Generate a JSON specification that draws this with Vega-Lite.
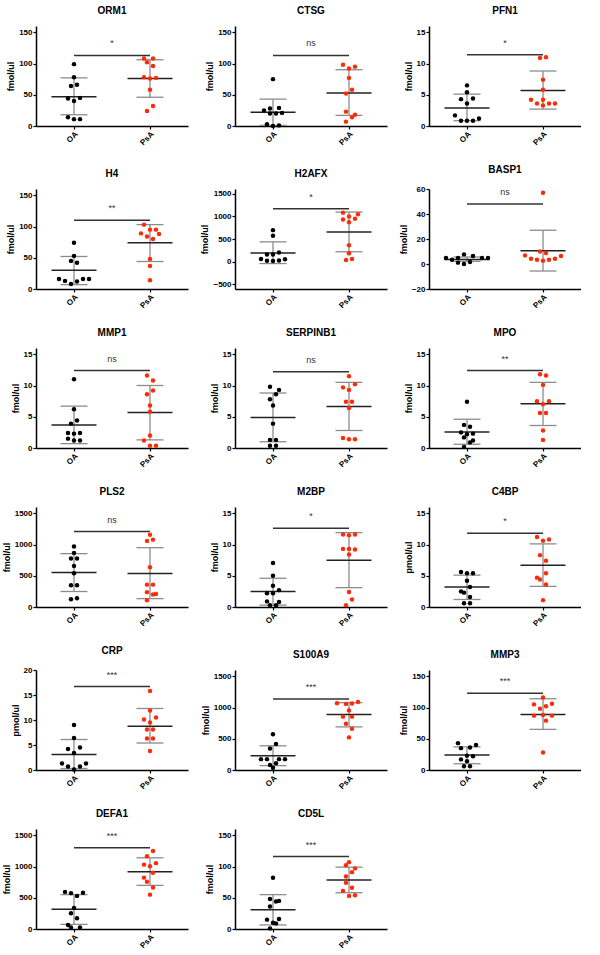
{
"$schema":"https://vega.github.io/schema/vega-lite/v6.json",
"background":"white",
"padding":{"left":2,"top":6,"right":0,"bottom":0},
"datasets":{"d":[
{"p":"ORM1","g":"OA","v":99,"j":0},{"p":"ORM1","g":"OA","v":78,"j":0},{"p":"ORM1","g":"OA","v":64,"j":-1},{"p":"ORM1","g":"OA","v":66,"j":1},{"p":"ORM1","g":"OA","v":44,"j":-2},{"p":"ORM1","g":"OA","v":45,"j":2},{"p":"ORM1","g":"OA","v":40,"j":0},{"p":"ORM1","g":"OA","v":14,"j":-2},{"p":"ORM1","g":"OA","v":11,"j":0},{"p":"ORM1","g":"OA","v":11,"j":2},
{"p":"ORM1","g":"PsA","v":108,"j":-2},{"p":"ORM1","g":"PsA","v":108,"j":1},{"p":"ORM1","g":"PsA","v":102,"j":-1},{"p":"ORM1","g":"PsA","v":96,"j":1},{"p":"ORM1","g":"PsA","v":78,"j":-2},{"p":"ORM1","g":"PsA","v":76,"j":0},{"p":"ORM1","g":"PsA","v":77,"j":2},{"p":"ORM1","g":"PsA","v":58,"j":0},{"p":"ORM1","g":"PsA","v":32,"j":1},{"p":"ORM1","g":"PsA","v":24,"j":-1},
{"p":"CTSG","g":"OA","v":75,"j":0},{"p":"CTSG","g":"OA","v":25,"j":-3},{"p":"CTSG","g":"OA","v":28,"j":-1},{"p":"CTSG","g":"OA","v":29,"j":2},{"p":"CTSG","g":"OA","v":20,"j":-1},{"p":"CTSG","g":"OA","v":20,"j":1},{"p":"CTSG","g":"OA","v":21,"j":3},{"p":"CTSG","g":"OA","v":3,"j":-2},{"p":"CTSG","g":"OA","v":1,"j":2},{"p":"CTSG","g":"OA","v":0,"j":0},
{"p":"CTSG","g":"PsA","v":98,"j":-2},{"p":"CTSG","g":"PsA","v":92,"j":0},{"p":"CTSG","g":"PsA","v":95,"j":2},{"p":"CTSG","g":"PsA","v":77,"j":0},{"p":"CTSG","g":"PsA","v":58,"j":1},{"p":"CTSG","g":"PsA","v":52,"j":-1},{"p":"CTSG","g":"PsA","v":23,"j":-1},{"p":"CTSG","g":"PsA","v":18,"j":2},{"p":"CTSG","g":"PsA","v":14,"j":1},{"p":"CTSG","g":"PsA","v":7,"j":-1},
{"p":"PFN1","g":"OA","v":6.5,"j":0},{"p":"PFN1","g":"OA","v":5.4,"j":0},{"p":"PFN1","g":"OA","v":4.3,"j":-2},{"p":"PFN1","g":"OA","v":4.4,"j":2},{"p":"PFN1","g":"OA","v":3.6,"j":0},{"p":"PFN1","g":"OA","v":1.7,"j":-4},{"p":"PFN1","g":"OA","v":1.2,"j":4},{"p":"PFN1","g":"OA","v":0.85,"j":-2},{"p":"PFN1","g":"OA","v":0.85,"j":0},{"p":"PFN1","g":"OA","v":0.85,"j":2},
{"p":"PFN1","g":"PsA","v":10.9,"j":-1},{"p":"PFN1","g":"PsA","v":11.0,"j":1},{"p":"PFN1","g":"PsA","v":7.4,"j":0},{"p":"PFN1","g":"PsA","v":5.8,"j":0},{"p":"PFN1","g":"PsA","v":4.2,"j":-4},{"p":"PFN1","g":"PsA","v":4.2,"j":0},{"p":"PFN1","g":"PsA","v":3.6,"j":-2},{"p":"PFN1","g":"PsA","v":3.3,"j":0},{"p":"PFN1","g":"PsA","v":3.6,"j":2},{"p":"PFN1","g":"PsA","v":3.6,"j":4},
{"p":"H4","g":"OA","v":74,"j":0},{"p":"H4","g":"OA","v":53,"j":0},{"p":"H4","g":"OA","v":45,"j":-1},{"p":"H4","g":"OA","v":42,"j":1},{"p":"H4","g":"OA","v":16,"j":-5},{"p":"H4","g":"OA","v":13,"j":-3},{"p":"H4","g":"OA","v":12,"j":1},{"p":"H4","g":"OA","v":16,"j":3},{"p":"H4","g":"OA","v":16,"j":5},{"p":"H4","g":"OA","v":8,"j":-1},
{"p":"H4","g":"PsA","v":103,"j":-2},{"p":"H4","g":"PsA","v":89,"j":-3},{"p":"H4","g":"PsA","v":84,"j":-1},{"p":"H4","g":"PsA","v":95,"j":0},{"p":"H4","g":"PsA","v":95,"j":2},{"p":"H4","g":"PsA","v":80,"j":1},{"p":"H4","g":"PsA","v":88,"j":3},{"p":"H4","g":"PsA","v":48,"j":0},{"p":"H4","g":"PsA","v":37,"j":0},{"p":"H4","g":"PsA","v":14,"j":0},
{"p":"H2AFX","g":"OA","v":695,"j":0},{"p":"H2AFX","g":"OA","v":570,"j":0},{"p":"H2AFX","g":"OA","v":159,"j":-2},{"p":"H2AFX","g":"OA","v":159,"j":0},{"p":"H2AFX","g":"OA","v":205,"j":2},{"p":"H2AFX","g":"OA","v":60,"j":-4},{"p":"H2AFX","g":"OA","v":53,"j":4},{"p":"H2AFX","g":"OA","v":20,"j":-2},{"p":"H2AFX","g":"OA","v":15,"j":0},{"p":"H2AFX","g":"OA","v":25,"j":2},
{"p":"H2AFX","g":"PsA","v":1080,"j":-2},{"p":"H2AFX","g":"PsA","v":1046,"j":3},{"p":"H2AFX","g":"PsA","v":927,"j":-2},{"p":"H2AFX","g":"PsA","v":993,"j":0},{"p":"H2AFX","g":"PsA","v":947,"j":2},{"p":"H2AFX","g":"PsA","v":868,"j":0},{"p":"H2AFX","g":"PsA","v":364,"j":0},{"p":"H2AFX","g":"PsA","v":185,"j":0},{"p":"H2AFX","g":"PsA","v":40,"j":-1},{"p":"H2AFX","g":"PsA","v":60,"j":1},
{"p":"BASP1","g":"OA","v":4.8,"j":-7},{"p":"BASP1","g":"OA","v":3.4,"j":-5},{"p":"BASP1","g":"OA","v":4.8,"j":-3},{"p":"BASP1","g":"OA","v":7.7,"j":-1},{"p":"BASP1","g":"OA","v":6.4,"j":2},{"p":"BASP1","g":"OA","v":4.8,"j":5},{"p":"BASP1","g":"OA","v":4.8,"j":7},{"p":"BASP1","g":"OA","v":1.1,"j":-3},{"p":"BASP1","g":"OA","v":0,"j":-1},{"p":"BASP1","g":"OA","v":1.6,"j":1},
{"p":"BASP1","g":"PsA","v":57,"j":0},{"p":"BASP1","g":"PsA","v":6.9,"j":-6},{"p":"BASP1","g":"PsA","v":4.2,"j":-4},{"p":"BASP1","g":"PsA","v":3.4,"j":-2},{"p":"BASP1","g":"PsA","v":10,"j":-1},{"p":"BASP1","g":"PsA","v":8.8,"j":1},{"p":"BASP1","g":"PsA","v":2.7,"j":0},{"p":"BASP1","g":"PsA","v":3.4,"j":2},{"p":"BASP1","g":"PsA","v":4.2,"j":4},{"p":"BASP1","g":"PsA","v":6.4,"j":6},
{"p":"MMP1","g":"OA","v":11,"j":0},{"p":"MMP1","g":"OA","v":6.2,"j":0},{"p":"MMP1","g":"OA","v":4.4,"j":1},{"p":"MMP1","g":"OA","v":3.9,"j":-1},{"p":"MMP1","g":"OA","v":2.4,"j":-2},{"p":"MMP1","g":"OA","v":2.3,"j":0},{"p":"MMP1","g":"OA","v":2.4,"j":2},{"p":"MMP1","g":"OA","v":1.5,"j":-2},{"p":"MMP1","g":"OA","v":1.2,"j":0},{"p":"MMP1","g":"OA","v":1.2,"j":2},
{"p":"MMP1","g":"PsA","v":11.6,"j":-1},{"p":"MMP1","g":"PsA","v":10.8,"j":1},{"p":"MMP1","g":"PsA","v":8.6,"j":-1},{"p":"MMP1","g":"PsA","v":9.2,"j":1},{"p":"MMP1","g":"PsA","v":6.8,"j":0},{"p":"MMP1","g":"PsA","v":5.8,"j":0},{"p":"MMP1","g":"PsA","v":2.0,"j":0},{"p":"MMP1","g":"PsA","v":1.2,"j":-2},{"p":"MMP1","g":"PsA","v":0.35,"j":0},{"p":"MMP1","g":"PsA","v":0.35,"j":2},
{"p":"SERPINB1","g":"OA","v":9.8,"j":-1},{"p":"SERPINB1","g":"OA","v":9.3,"j":2},{"p":"SERPINB1","g":"OA","v":8.6,"j":1},{"p":"SERPINB1","g":"OA","v":7.8,"j":-1},{"p":"SERPINB1","g":"OA","v":6.8,"j":0},{"p":"SERPINB1","g":"OA","v":3.9,"j":0},{"p":"SERPINB1","g":"OA","v":1.3,"j":-1},{"p":"SERPINB1","g":"OA","v":1.3,"j":1},{"p":"SERPINB1","g":"OA","v":0.35,"j":-1},{"p":"SERPINB1","g":"OA","v":0.35,"j":1},
{"p":"SERPINB1","g":"PsA","v":11.5,"j":0},{"p":"SERPINB1","g":"PsA","v":9.7,"j":-2},{"p":"SERPINB1","g":"PsA","v":9.3,"j":0},{"p":"SERPINB1","g":"PsA","v":10.2,"j":2},{"p":"SERPINB1","g":"PsA","v":7.4,"j":-1},{"p":"SERPINB1","g":"PsA","v":7.4,"j":1},{"p":"SERPINB1","g":"PsA","v":6.4,"j":0},{"p":"SERPINB1","g":"PsA","v":1.6,"j":-2},{"p":"SERPINB1","g":"PsA","v":1.4,"j":0},{"p":"SERPINB1","g":"PsA","v":1.4,"j":2},
{"p":"MPO","g":"OA","v":7.4,"j":0},{"p":"MPO","g":"OA","v":3.7,"j":-1},{"p":"MPO","g":"OA","v":3.4,"j":1},{"p":"MPO","g":"OA","v":2.5,"j":-2},{"p":"MPO","g":"OA","v":2.2,"j":0},{"p":"MPO","g":"OA","v":2.3,"j":2},{"p":"MPO","g":"OA","v":1.7,"j":-1},{"p":"MPO","g":"OA","v":1.2,"j":2},{"p":"MPO","g":"OA","v":0.9,"j":1},{"p":"MPO","g":"OA","v":0.15,"j":-1},
{"p":"MPO","g":"PsA","v":11.8,"j":-1},{"p":"MPO","g":"PsA","v":11.6,"j":1},{"p":"MPO","g":"PsA","v":10.1,"j":0},{"p":"MPO","g":"PsA","v":7.5,"j":-2},{"p":"MPO","g":"PsA","v":7.5,"j":2},{"p":"MPO","g":"PsA","v":7.0,"j":0},{"p":"MPO","g":"PsA","v":5.6,"j":-1},{"p":"MPO","g":"PsA","v":5.6,"j":1},{"p":"MPO","g":"PsA","v":2.8,"j":0},{"p":"MPO","g":"PsA","v":1.3,"j":0},
{"p":"PLS2","g":"OA","v":969,"j":0},{"p":"PLS2","g":"OA","v":864,"j":0},{"p":"PLS2","g":"OA","v":775,"j":-1},{"p":"PLS2","g":"OA","v":775,"j":1},{"p":"PLS2","g":"OA","v":656,"j":0},{"p":"PLS2","g":"OA","v":541,"j":0},{"p":"PLS2","g":"OA","v":348,"j":-1},{"p":"PLS2","g":"OA","v":348,"j":1},{"p":"PLS2","g":"OA","v":124,"j":-1},{"p":"PLS2","g":"OA","v":139,"j":1},
{"p":"PLS2","g":"PsA","v":1157,"j":0},{"p":"PLS2","g":"PsA","v":1058,"j":-1},{"p":"PLS2","g":"PsA","v":1078,"j":1},{"p":"PLS2","g":"PsA","v":636,"j":0},{"p":"PLS2","g":"PsA","v":358,"j":-1},{"p":"PLS2","g":"PsA","v":358,"j":1},{"p":"PLS2","g":"PsA","v":238,"j":-1},{"p":"PLS2","g":"PsA","v":199,"j":1},{"p":"PLS2","g":"PsA","v":209,"j":2},{"p":"PLS2","g":"PsA","v":109,"j":-1},
{"p":"M2BP","g":"OA","v":7.05,"j":0},{"p":"M2BP","g":"OA","v":5.0,"j":0},{"p":"M2BP","g":"OA","v":3.4,"j":0},{"p":"M2BP","g":"OA","v":2.7,"j":2},{"p":"M2BP","g":"OA","v":2.2,"j":-2},{"p":"M2BP","g":"OA","v":2.2,"j":0},{"p":"M2BP","g":"OA","v":0.9,"j":-2},{"p":"M2BP","g":"OA","v":0.8,"j":2},{"p":"M2BP","g":"OA","v":0.3,"j":-1},{"p":"M2BP","g":"OA","v":0.3,"j":1},
{"p":"M2BP","g":"PsA","v":11.6,"j":-2},{"p":"M2BP","g":"PsA","v":11.5,"j":0},{"p":"M2BP","g":"PsA","v":11.6,"j":2},{"p":"M2BP","g":"PsA","v":9.3,"j":-2},{"p":"M2BP","g":"PsA","v":9.3,"j":0},{"p":"M2BP","g":"PsA","v":9.2,"j":2},{"p":"M2BP","g":"PsA","v":8.4,"j":0},{"p":"M2BP","g":"PsA","v":2.4,"j":0},{"p":"M2BP","g":"PsA","v":1.2,"j":1},{"p":"M2BP","g":"PsA","v":0.3,"j":-1},
{"p":"C4BP","g":"OA","v":5.6,"j":-2},{"p":"C4BP","g":"OA","v":5.4,"j":0},{"p":"C4BP","g":"OA","v":5.4,"j":2},{"p":"C4BP","g":"OA","v":4.2,"j":0},{"p":"C4BP","g":"OA","v":3.2,"j":1},{"p":"C4BP","g":"OA","v":2.5,"j":-2},{"p":"C4BP","g":"OA","v":2.3,"j":-1},{"p":"C4BP","g":"OA","v":1.6,"j":1},{"p":"C4BP","g":"OA","v":0.6,"j":-1},{"p":"C4BP","g":"OA","v":0.6,"j":1},
{"p":"C4BP","g":"PsA","v":11.2,"j":-2},{"p":"C4BP","g":"PsA","v":10.6,"j":0},{"p":"C4BP","g":"PsA","v":10.8,"j":2},{"p":"C4BP","g":"PsA","v":8.3,"j":-1},{"p":"C4BP","g":"PsA","v":7.4,"j":1},{"p":"C4BP","g":"PsA","v":5.4,"j":1},{"p":"C4BP","g":"PsA","v":4.7,"j":-2},{"p":"C4BP","g":"PsA","v":4.4,"j":-1},{"p":"C4BP","g":"PsA","v":3.6,"j":1},{"p":"C4BP","g":"PsA","v":1.1,"j":0},
{"p":"CRP","g":"OA","v":9.0,"j":0},{"p":"CRP","g":"OA","v":6.4,"j":0},{"p":"CRP","g":"OA","v":4.2,"j":-2},{"p":"CRP","g":"OA","v":4.5,"j":2},{"p":"CRP","g":"OA","v":3.4,"j":0},{"p":"CRP","g":"OA","v":1.3,"j":-4},{"p":"CRP","g":"OA","v":1.3,"j":4},{"p":"CRP","g":"OA","v":0.7,"j":-2},{"p":"CRP","g":"OA","v":0.7,"j":2},{"p":"CRP","g":"OA","v":0.1,"j":0},
{"p":"CRP","g":"PsA","v":15.8,"j":0},{"p":"CRP","g":"PsA","v":11.9,"j":0},{"p":"CRP","g":"PsA","v":10.1,"j":-2},{"p":"CRP","g":"PsA","v":10.5,"j":2},{"p":"CRP","g":"PsA","v":9.5,"j":0},{"p":"CRP","g":"PsA","v":8.1,"j":-1},{"p":"CRP","g":"PsA","v":8.1,"j":1},{"p":"CRP","g":"PsA","v":6.3,"j":-1},{"p":"CRP","g":"PsA","v":6.3,"j":1},{"p":"CRP","g":"PsA","v":3.8,"j":0},
{"p":"S100A9","g":"OA","v":571,"j":0},{"p":"S100A9","g":"OA","v":417,"j":1},{"p":"S100A9","g":"OA","v":343,"j":-1},{"p":"S100A9","g":"OA","v":174,"j":-4},{"p":"S100A9","g":"OA","v":174,"j":-2},{"p":"S100A9","g":"OA","v":174,"j":2},{"p":"S100A9","g":"OA","v":174,"j":4},{"p":"S100A9","g":"OA","v":109,"j":1},{"p":"S100A9","g":"OA","v":80,"j":-1},{"p":"S100A9","g":"OA","v":35,"j":0},
{"p":"S100A9","g":"PsA","v":1068,"j":-4},{"p":"S100A9","g":"PsA","v":1058,"j":-1},{"p":"S100A9","g":"PsA","v":1063,"j":1},{"p":"S100A9","g":"PsA","v":1088,"j":3},{"p":"S100A9","g":"PsA","v":954,"j":0},{"p":"S100A9","g":"PsA","v":854,"j":-2},{"p":"S100A9","g":"PsA","v":854,"j":1},{"p":"S100A9","g":"PsA","v":740,"j":-1},{"p":"S100A9","g":"PsA","v":661,"j":1},{"p":"S100A9","g":"PsA","v":522,"j":0},
{"p":"MMP3","g":"OA","v":43,"j":-3},{"p":"MMP3","g":"OA","v":40,"j":3},{"p":"MMP3","g":"OA","v":35,"j":-2},{"p":"MMP3","g":"OA","v":36,"j":1},{"p":"MMP3","g":"OA","v":23,"j":0},{"p":"MMP3","g":"OA","v":22,"j":2},{"p":"MMP3","g":"OA","v":17,"j":-2},{"p":"MMP3","g":"OA","v":14,"j":0},{"p":"MMP3","g":"OA","v":6,"j":-1},{"p":"MMP3","g":"OA","v":6,"j":1},
{"p":"MMP3","g":"PsA","v":116,"j":0},{"p":"MMP3","g":"PsA","v":105,"j":-3},{"p":"MMP3","g":"PsA","v":106,"j":3},{"p":"MMP3","g":"PsA","v":98,"j":-1},{"p":"MMP3","g":"PsA","v":102,"j":1},{"p":"MMP3","g":"PsA","v":87,"j":-3},{"p":"MMP3","g":"PsA","v":88,"j":0},{"p":"MMP3","g":"PsA","v":87,"j":3},{"p":"MMP3","g":"PsA","v":79,"j":1},{"p":"MMP3","g":"PsA","v":28,"j":0},
{"p":"DEFA1","g":"OA","v":594,"j":-3},{"p":"DEFA1","g":"OA","v":574,"j":-1},{"p":"DEFA1","g":"OA","v":579,"j":3},{"p":"DEFA1","g":"OA","v":530,"j":1},{"p":"DEFA1","g":"OA","v":337,"j":0},{"p":"DEFA1","g":"OA","v":252,"j":-1},{"p":"DEFA1","g":"OA","v":173,"j":1},{"p":"DEFA1","g":"OA","v":64,"j":-2},{"p":"DEFA1","g":"OA","v":25,"j":-1},{"p":"DEFA1","g":"OA","v":25,"j":2},
{"p":"DEFA1","g":"PsA","v":1248,"j":1},{"p":"DEFA1","g":"PsA","v":1163,"j":-1},{"p":"DEFA1","g":"PsA","v":1030,"j":-2},{"p":"DEFA1","g":"PsA","v":1054,"j":2},{"p":"DEFA1","g":"PsA","v":1005,"j":0},{"p":"DEFA1","g":"PsA","v":901,"j":1},{"p":"DEFA1","g":"PsA","v":822,"j":-2},{"p":"DEFA1","g":"PsA","v":757,"j":-1},{"p":"DEFA1","g":"PsA","v":663,"j":1},{"p":"DEFA1","g":"PsA","v":550,"j":0},
{"p":"CD5L","g":"OA","v":82,"j":0},{"p":"CD5L","g":"OA","v":48,"j":-1},{"p":"CD5L","g":"OA","v":44,"j":1},{"p":"CD5L","g":"OA","v":45,"j":2},{"p":"CD5L","g":"OA","v":36,"j":-1},{"p":"CD5L","g":"OA","v":15,"j":-2},{"p":"CD5L","g":"OA","v":16,"j":2},{"p":"CD5L","g":"OA","v":10,"j":0},{"p":"CD5L","g":"OA","v":9,"j":1},{"p":"CD5L","g":"OA","v":1,"j":-1},
{"p":"CD5L","g":"PsA","v":107,"j":0},{"p":"CD5L","g":"PsA","v":102,"j":-1},{"p":"CD5L","g":"PsA","v":97,"j":2},{"p":"CD5L","g":"PsA","v":91,"j":1},{"p":"CD5L","g":"PsA","v":84,"j":-1},{"p":"CD5L","g":"PsA","v":74,"j":-1},{"p":"CD5L","g":"PsA","v":66,"j":1},{"p":"CD5L","g":"PsA","v":61,"j":-2},{"p":"CD5L","g":"PsA","v":53,"j":0},{"p":"CD5L","g":"PsA","v":54,"j":2},
{"p":"ORM1","g":"OA","m":47,"lo":18,"hi":77},{"p":"ORM1","g":"PsA","m":76,"lo":46,"hi":106},
{"p":"CTSG","g":"OA","m":22,"lo":1,"hi":43},{"p":"CTSG","g":"PsA","m":53,"lo":17,"hi":90},
{"p":"PFN1","g":"OA","m":2.9,"lo":0.85,"hi":5.1},{"p":"PFN1","g":"PsA","m":5.7,"lo":2.7,"hi":8.8},
{"p":"H4","g":"OA","m":30,"lo":7,"hi":52},{"p":"H4","g":"PsA","m":74,"lo":44,"hi":103},
{"p":"H2AFX","g":"OA","m":192,"lo":-40,"hi":437},{"p":"H2AFX","g":"PsA","m":656,"lo":219,"hi":1093},
{"p":"BASP1","g":"OA","m":3.7,"lo":2.1,"hi":5.6},{"p":"BASP1","g":"PsA","m":10.6,"lo":-5.6,"hi":27},
{"p":"MMP1","g":"OA","m":3.7,"lo":0.7,"hi":6.7},{"p":"MMP1","g":"PsA","m":5.7,"lo":1.3,"hi":10},
{"p":"SERPINB1","g":"OA","m":4.9,"lo":1.0,"hi":8.8},{"p":"SERPINB1","g":"PsA","m":6.66,"lo":2.8,"hi":10.5},
{"p":"MPO","g":"OA","m":2.57,"lo":0.6,"hi":4.6},{"p":"MPO","g":"PsA","m":7.1,"lo":3.6,"hi":10.5},
{"p":"PLS2","g":"OA","m":551,"lo":248,"hi":854},{"p":"PLS2","g":"PsA","m":536,"lo":134,"hi":949},
{"p":"M2BP","g":"OA","m":2.5,"lo":0.3,"hi":4.6},{"p":"M2BP","g":"PsA","m":7.5,"lo":3.1,"hi":11.9},
{"p":"C4BP","g":"OA","m":3.2,"lo":1.2,"hi":5.1},{"p":"C4BP","g":"PsA","m":6.7,"lo":3.3,"hi":10.1},
{"p":"CRP","g":"OA","m":3.1,"lo":0.3,"hi":6.1},{"p":"CRP","g":"PsA","m":8.74,"lo":5.4,"hi":12.3},
{"p":"S100A9","g":"OA","m":228,"lo":70,"hi":387},{"p":"S100A9","g":"PsA","m":889,"lo":690,"hi":1078},
{"p":"MMP3","g":"OA","m":24,"lo":10,"hi":37},{"p":"MMP3","g":"PsA","m":89,"lo":65,"hi":114},
{"p":"DEFA1","g":"OA","m":317,"lo":74,"hi":550},{"p":"DEFA1","g":"PsA","m":916,"lo":698,"hi":1139},
{"p":"CD5L","g":"OA","m":31,"lo":6.5,"hi":55},{"p":"CD5L","g":"PsA","m":78.5,"lo":58,"hi":99},
{"p":"ORM1","s":"*","y":113},{"p":"CTSG","s":"ns","y":113},{"p":"PFN1","s":"*","y":11.4},{"p":"H4","s":"**","y":110},{"p":"H2AFX","s":"*","y":1166},{"p":"BASP1","s":"ns","y":48},{"p":"MMP1","s":"ns","y":12.4},{"p":"SERPINB1","s":"ns","y":12.2},{"p":"MPO","s":"**","y":12.4},{"p":"PLS2","s":"ns","y":1207},{"p":"M2BP","s":"*","y":12.6},{"p":"C4BP","s":"*","y":11.8},{"p":"CRP","s":"***","y":16.7},{"p":"S100A9","s":"***","y":1138},{"p":"MMP3","s":"***","y":123},{"p":"DEFA1","s":"***","y":1302},{"p":"CD5L","s":"***","y":116}
]},
"data":{"name":"d"},
"columns":3,
"spacing":{"row":18,"column":12},
"concat":[
{"title":"ORM1","width":152,"height":100,"transform":[{"filter":"datum.p==='ORM1'"}],"layer":[
{"transform":[{"filter":"isValid(datum.m)"}],"mark":{"type":"rule","color":"#8c8c8c","strokeWidth":1.3},"encoding":{"x":{"field":"g","type":"nominal","axis":{"title":null}},"y":{"field":"lo","type":"quantitative","scale":{"domain":[0,150]},"axis":{"values":[0,50,100,150],"tickCount":10,"format":"d","title":"fmol/ul"}},"y2":{"field":"hi"}}},
{"transform":[{"filter":"isValid(datum.m)"}],"mark":{"type":"tick","size":27,"thickness":1.3,"color":"#8c8c8c","opacity":1},"encoding":{"x":{"field":"g","type":"nominal","axis":{"title":null}},"y":{"field":"lo","type":"quantitative"}}},
{"transform":[{"filter":"isValid(datum.m)"}],"mark":{"type":"tick","size":27,"thickness":1.3,"color":"#8c8c8c","opacity":1},"encoding":{"x":{"field":"g","type":"nominal","axis":{"title":null}},"y":{"field":"hi","type":"quantitative"}}},
{"transform":[{"filter":"isValid(datum.m)"}],"mark":{"type":"tick","size":45,"thickness":1.5,"color":"#222","opacity":1},"encoding":{"x":{"field":"g","type":"nominal","axis":{"title":null}},"y":{"field":"m","type":"quantitative"}}},
{"transform":[{"filter":"isValid(datum.v)"}],"mark":{"type":"circle","size":20,"opacity":1},"encoding":{"x":{"field":"g","type":"nominal","axis":{"title":null}},"xOffset":{"field":"j","type":"quantitative","scale":{"domain":[-8,8],"range":[14,62]}},"y":{"field":"v","type":"quantitative"},"color":{"field":"g","type":"nominal","scale":{"domain":["OA","PsA"],"range":["#000000","#ff2b06"]},"legend":null}}},
{"transform":[{"filter":"isValid(datum.s)"}],"mark":{"type":"rule","color":"#333","strokeWidth":1.5},"encoding":{"x":{"datum":"OA"},"x2":{"datum":"PsA"},"y":{"field":"y","type":"quantitative"}}},
{"transform":[{"filter":"isValid(datum.s)"}],"mark":{"type":"text","baseline":"bottom","dy":-7,"fontSize":9,"color":"#333"},"encoding":{"x":{"datum":"PsA","bandPosition":0},"y":{"field":"y","type":"quantitative"},"text":{"field":"s"}}}
]},
{"title":"CTSG","width":152,"height":100,"transform":[{"filter":"datum.p==='CTSG'"}],"layer":[
{"transform":[{"filter":"isValid(datum.m)"}],"mark":{"type":"rule","color":"#8c8c8c","strokeWidth":1.3},"encoding":{"x":{"field":"g","type":"nominal","axis":{"title":null}},"y":{"field":"lo","type":"quantitative","scale":{"domain":[0,150]},"axis":{"values":[0,50,100,150],"tickCount":10,"format":"d","title":"fmol/ul"}},"y2":{"field":"hi"}}},
{"transform":[{"filter":"isValid(datum.m)"}],"mark":{"type":"tick","size":27,"thickness":1.3,"color":"#8c8c8c","opacity":1},"encoding":{"x":{"field":"g","type":"nominal","axis":{"title":null}},"y":{"field":"lo","type":"quantitative"}}},
{"transform":[{"filter":"isValid(datum.m)"}],"mark":{"type":"tick","size":27,"thickness":1.3,"color":"#8c8c8c","opacity":1},"encoding":{"x":{"field":"g","type":"nominal","axis":{"title":null}},"y":{"field":"hi","type":"quantitative"}}},
{"transform":[{"filter":"isValid(datum.m)"}],"mark":{"type":"tick","size":45,"thickness":1.5,"color":"#222","opacity":1},"encoding":{"x":{"field":"g","type":"nominal","axis":{"title":null}},"y":{"field":"m","type":"quantitative"}}},
{"transform":[{"filter":"isValid(datum.v)"}],"mark":{"type":"circle","size":20,"opacity":1},"encoding":{"x":{"field":"g","type":"nominal","axis":{"title":null}},"xOffset":{"field":"j","type":"quantitative","scale":{"domain":[-8,8],"range":[14,62]}},"y":{"field":"v","type":"quantitative"},"color":{"field":"g","type":"nominal","scale":{"domain":["OA","PsA"],"range":["#000000","#ff2b06"]},"legend":null}}},
{"transform":[{"filter":"isValid(datum.s)"}],"mark":{"type":"rule","color":"#333","strokeWidth":1.5},"encoding":{"x":{"datum":"OA"},"x2":{"datum":"PsA"},"y":{"field":"y","type":"quantitative"}}},
{"transform":[{"filter":"isValid(datum.s)"}],"mark":{"type":"text","baseline":"bottom","dy":-7,"fontSize":9,"color":"#333"},"encoding":{"x":{"datum":"PsA","bandPosition":0},"y":{"field":"y","type":"quantitative"},"text":{"field":"s"}}}
]},
{"title":"PFN1","width":152,"height":100,"transform":[{"filter":"datum.p==='PFN1'"}],"layer":[
{"transform":[{"filter":"isValid(datum.m)"}],"mark":{"type":"rule","color":"#8c8c8c","strokeWidth":1.3},"encoding":{"x":{"field":"g","type":"nominal","axis":{"title":null}},"y":{"field":"lo","type":"quantitative","scale":{"domain":[0,15]},"axis":{"values":[0,5,10,15],"tickCount":10,"format":"d","title":"fmol/ul"}},"y2":{"field":"hi"}}},
{"transform":[{"filter":"isValid(datum.m)"}],"mark":{"type":"tick","size":27,"thickness":1.3,"color":"#8c8c8c","opacity":1},"encoding":{"x":{"field":"g","type":"nominal","axis":{"title":null}},"y":{"field":"lo","type":"quantitative"}}},
{"transform":[{"filter":"isValid(datum.m)"}],"mark":{"type":"tick","size":27,"thickness":1.3,"color":"#8c8c8c","opacity":1},"encoding":{"x":{"field":"g","type":"nominal","axis":{"title":null}},"y":{"field":"hi","type":"quantitative"}}},
{"transform":[{"filter":"isValid(datum.m)"}],"mark":{"type":"tick","size":45,"thickness":1.5,"color":"#222","opacity":1},"encoding":{"x":{"field":"g","type":"nominal","axis":{"title":null}},"y":{"field":"m","type":"quantitative"}}},
{"transform":[{"filter":"isValid(datum.v)"}],"mark":{"type":"circle","size":20,"opacity":1},"encoding":{"x":{"field":"g","type":"nominal","axis":{"title":null}},"xOffset":{"field":"j","type":"quantitative","scale":{"domain":[-8,8],"range":[14,62]}},"y":{"field":"v","type":"quantitative"},"color":{"field":"g","type":"nominal","scale":{"domain":["OA","PsA"],"range":["#000000","#ff2b06"]},"legend":null}}},
{"transform":[{"filter":"isValid(datum.s)"}],"mark":{"type":"rule","color":"#333","strokeWidth":1.5},"encoding":{"x":{"datum":"OA"},"x2":{"datum":"PsA"},"y":{"field":"y","type":"quantitative"}}},
{"transform":[{"filter":"isValid(datum.s)"}],"mark":{"type":"text","baseline":"bottom","dy":-7,"fontSize":9,"color":"#333"},"encoding":{"x":{"datum":"PsA","bandPosition":0},"y":{"field":"y","type":"quantitative"},"text":{"field":"s"}}}
]},
{"title":"H4","width":152,"height":100,"transform":[{"filter":"datum.p==='H4'"}],"layer":[
{"transform":[{"filter":"isValid(datum.m)"}],"mark":{"type":"rule","color":"#8c8c8c","strokeWidth":1.3},"encoding":{"x":{"field":"g","type":"nominal","axis":{"title":null}},"y":{"field":"lo","type":"quantitative","scale":{"domain":[0,150]},"axis":{"values":[0,50,100,150],"tickCount":10,"format":"d","title":"fmol/ul"}},"y2":{"field":"hi"}}},
{"transform":[{"filter":"isValid(datum.m)"}],"mark":{"type":"tick","size":27,"thickness":1.3,"color":"#8c8c8c","opacity":1},"encoding":{"x":{"field":"g","type":"nominal","axis":{"title":null}},"y":{"field":"lo","type":"quantitative"}}},
{"transform":[{"filter":"isValid(datum.m)"}],"mark":{"type":"tick","size":27,"thickness":1.3,"color":"#8c8c8c","opacity":1},"encoding":{"x":{"field":"g","type":"nominal","axis":{"title":null}},"y":{"field":"hi","type":"quantitative"}}},
{"transform":[{"filter":"isValid(datum.m)"}],"mark":{"type":"tick","size":45,"thickness":1.5,"color":"#222","opacity":1},"encoding":{"x":{"field":"g","type":"nominal","axis":{"title":null}},"y":{"field":"m","type":"quantitative"}}},
{"transform":[{"filter":"isValid(datum.v)"}],"mark":{"type":"circle","size":20,"opacity":1},"encoding":{"x":{"field":"g","type":"nominal","axis":{"title":null}},"xOffset":{"field":"j","type":"quantitative","scale":{"domain":[-8,8],"range":[14,62]}},"y":{"field":"v","type":"quantitative"},"color":{"field":"g","type":"nominal","scale":{"domain":["OA","PsA"],"range":["#000000","#ff2b06"]},"legend":null}}},
{"transform":[{"filter":"isValid(datum.s)"}],"mark":{"type":"rule","color":"#333","strokeWidth":1.5},"encoding":{"x":{"datum":"OA"},"x2":{"datum":"PsA"},"y":{"field":"y","type":"quantitative"}}},
{"transform":[{"filter":"isValid(datum.s)"}],"mark":{"type":"text","baseline":"bottom","dy":-7,"fontSize":9,"color":"#333"},"encoding":{"x":{"datum":"PsA","bandPosition":0},"y":{"field":"y","type":"quantitative"},"text":{"field":"s"}}}
]},
{"title":"H2AFX","width":152,"height":100,"transform":[{"filter":"datum.p==='H2AFX'"}],"layer":[
{"transform":[{"filter":"isValid(datum.m)"}],"mark":{"type":"rule","color":"#8c8c8c","strokeWidth":1.3},"encoding":{"x":{"field":"g","type":"nominal","axis":{"title":null}},"y":{"field":"lo","type":"quantitative","scale":{"domain":[-500,1500]},"axis":{"values":[-500,0,500,1000,1500],"tickCount":10,"format":"d","title":"fmol/ul"}},"y2":{"field":"hi"}}},
{"transform":[{"filter":"isValid(datum.m)"}],"mark":{"type":"tick","size":27,"thickness":1.3,"color":"#8c8c8c","opacity":1},"encoding":{"x":{"field":"g","type":"nominal","axis":{"title":null}},"y":{"field":"lo","type":"quantitative"}}},
{"transform":[{"filter":"isValid(datum.m)"}],"mark":{"type":"tick","size":27,"thickness":1.3,"color":"#8c8c8c","opacity":1},"encoding":{"x":{"field":"g","type":"nominal","axis":{"title":null}},"y":{"field":"hi","type":"quantitative"}}},
{"transform":[{"filter":"isValid(datum.m)"}],"mark":{"type":"tick","size":45,"thickness":1.5,"color":"#222","opacity":1},"encoding":{"x":{"field":"g","type":"nominal","axis":{"title":null}},"y":{"field":"m","type":"quantitative"}}},
{"transform":[{"filter":"isValid(datum.v)"}],"mark":{"type":"circle","size":20,"opacity":1},"encoding":{"x":{"field":"g","type":"nominal","axis":{"title":null}},"xOffset":{"field":"j","type":"quantitative","scale":{"domain":[-8,8],"range":[14,62]}},"y":{"field":"v","type":"quantitative"},"color":{"field":"g","type":"nominal","scale":{"domain":["OA","PsA"],"range":["#000000","#ff2b06"]},"legend":null}}},
{"transform":[{"filter":"isValid(datum.s)"}],"mark":{"type":"rule","color":"#333","strokeWidth":1.5},"encoding":{"x":{"datum":"OA"},"x2":{"datum":"PsA"},"y":{"field":"y","type":"quantitative"}}},
{"transform":[{"filter":"isValid(datum.s)"}],"mark":{"type":"text","baseline":"bottom","dy":-7,"fontSize":9,"color":"#333"},"encoding":{"x":{"datum":"PsA","bandPosition":0},"y":{"field":"y","type":"quantitative"},"text":{"field":"s"}}}
]},
{"title":"BASP1","width":152,"height":100,"transform":[{"filter":"datum.p==='BASP1'"}],"layer":[
{"transform":[{"filter":"isValid(datum.m)"}],"mark":{"type":"rule","color":"#8c8c8c","strokeWidth":1.3},"encoding":{"x":{"field":"g","type":"nominal","axis":{"title":null}},"y":{"field":"lo","type":"quantitative","scale":{"domain":[-20,60]},"axis":{"values":[-20,0,20,40,60],"tickCount":10,"format":"d","title":"fmol/ul"}},"y2":{"field":"hi"}}},
{"transform":[{"filter":"isValid(datum.m)"}],"mark":{"type":"tick","size":27,"thickness":1.3,"color":"#8c8c8c","opacity":1},"encoding":{"x":{"field":"g","type":"nominal","axis":{"title":null}},"y":{"field":"lo","type":"quantitative"}}},
{"transform":[{"filter":"isValid(datum.m)"}],"mark":{"type":"tick","size":27,"thickness":1.3,"color":"#8c8c8c","opacity":1},"encoding":{"x":{"field":"g","type":"nominal","axis":{"title":null}},"y":{"field":"hi","type":"quantitative"}}},
{"transform":[{"filter":"isValid(datum.m)"}],"mark":{"type":"tick","size":45,"thickness":1.5,"color":"#222","opacity":1},"encoding":{"x":{"field":"g","type":"nominal","axis":{"title":null}},"y":{"field":"m","type":"quantitative"}}},
{"transform":[{"filter":"isValid(datum.v)"}],"mark":{"type":"circle","size":20,"opacity":1},"encoding":{"x":{"field":"g","type":"nominal","axis":{"title":null}},"xOffset":{"field":"j","type":"quantitative","scale":{"domain":[-8,8],"range":[14,62]}},"y":{"field":"v","type":"quantitative"},"color":{"field":"g","type":"nominal","scale":{"domain":["OA","PsA"],"range":["#000000","#ff2b06"]},"legend":null}}},
{"transform":[{"filter":"isValid(datum.s)"}],"mark":{"type":"rule","color":"#333","strokeWidth":1.5},"encoding":{"x":{"datum":"OA"},"x2":{"datum":"PsA"},"y":{"field":"y","type":"quantitative"}}},
{"transform":[{"filter":"isValid(datum.s)"}],"mark":{"type":"text","baseline":"bottom","dy":-7,"fontSize":9,"color":"#333"},"encoding":{"x":{"datum":"PsA","bandPosition":0},"y":{"field":"y","type":"quantitative"},"text":{"field":"s"}}}
]},
{"title":"MMP1","width":152,"height":100,"transform":[{"filter":"datum.p==='MMP1'"}],"layer":[
{"transform":[{"filter":"isValid(datum.m)"}],"mark":{"type":"rule","color":"#8c8c8c","strokeWidth":1.3},"encoding":{"x":{"field":"g","type":"nominal","axis":{"title":null}},"y":{"field":"lo","type":"quantitative","scale":{"domain":[0,15]},"axis":{"values":[0,5,10,15],"tickCount":10,"format":"d","title":"fmol/ul"}},"y2":{"field":"hi"}}},
{"transform":[{"filter":"isValid(datum.m)"}],"mark":{"type":"tick","size":27,"thickness":1.3,"color":"#8c8c8c","opacity":1},"encoding":{"x":{"field":"g","type":"nominal","axis":{"title":null}},"y":{"field":"lo","type":"quantitative"}}},
{"transform":[{"filter":"isValid(datum.m)"}],"mark":{"type":"tick","size":27,"thickness":1.3,"color":"#8c8c8c","opacity":1},"encoding":{"x":{"field":"g","type":"nominal","axis":{"title":null}},"y":{"field":"hi","type":"quantitative"}}},
{"transform":[{"filter":"isValid(datum.m)"}],"mark":{"type":"tick","size":45,"thickness":1.5,"color":"#222","opacity":1},"encoding":{"x":{"field":"g","type":"nominal","axis":{"title":null}},"y":{"field":"m","type":"quantitative"}}},
{"transform":[{"filter":"isValid(datum.v)"}],"mark":{"type":"circle","size":20,"opacity":1},"encoding":{"x":{"field":"g","type":"nominal","axis":{"title":null}},"xOffset":{"field":"j","type":"quantitative","scale":{"domain":[-8,8],"range":[14,62]}},"y":{"field":"v","type":"quantitative"},"color":{"field":"g","type":"nominal","scale":{"domain":["OA","PsA"],"range":["#000000","#ff2b06"]},"legend":null}}},
{"transform":[{"filter":"isValid(datum.s)"}],"mark":{"type":"rule","color":"#333","strokeWidth":1.5},"encoding":{"x":{"datum":"OA"},"x2":{"datum":"PsA"},"y":{"field":"y","type":"quantitative"}}},
{"transform":[{"filter":"isValid(datum.s)"}],"mark":{"type":"text","baseline":"bottom","dy":-7,"fontSize":9,"color":"#333"},"encoding":{"x":{"datum":"PsA","bandPosition":0},"y":{"field":"y","type":"quantitative"},"text":{"field":"s"}}}
]},
{"title":"SERPINB1","width":152,"height":100,"transform":[{"filter":"datum.p==='SERPINB1'"}],"layer":[
{"transform":[{"filter":"isValid(datum.m)"}],"mark":{"type":"rule","color":"#8c8c8c","strokeWidth":1.3},"encoding":{"x":{"field":"g","type":"nominal","axis":{"title":null}},"y":{"field":"lo","type":"quantitative","scale":{"domain":[0,15]},"axis":{"values":[0,5,10,15],"tickCount":10,"format":"d","title":"fmol/ul"}},"y2":{"field":"hi"}}},
{"transform":[{"filter":"isValid(datum.m)"}],"mark":{"type":"tick","size":27,"thickness":1.3,"color":"#8c8c8c","opacity":1},"encoding":{"x":{"field":"g","type":"nominal","axis":{"title":null}},"y":{"field":"lo","type":"quantitative"}}},
{"transform":[{"filter":"isValid(datum.m)"}],"mark":{"type":"tick","size":27,"thickness":1.3,"color":"#8c8c8c","opacity":1},"encoding":{"x":{"field":"g","type":"nominal","axis":{"title":null}},"y":{"field":"hi","type":"quantitative"}}},
{"transform":[{"filter":"isValid(datum.m)"}],"mark":{"type":"tick","size":45,"thickness":1.5,"color":"#222","opacity":1},"encoding":{"x":{"field":"g","type":"nominal","axis":{"title":null}},"y":{"field":"m","type":"quantitative"}}},
{"transform":[{"filter":"isValid(datum.v)"}],"mark":{"type":"circle","size":20,"opacity":1},"encoding":{"x":{"field":"g","type":"nominal","axis":{"title":null}},"xOffset":{"field":"j","type":"quantitative","scale":{"domain":[-8,8],"range":[14,62]}},"y":{"field":"v","type":"quantitative"},"color":{"field":"g","type":"nominal","scale":{"domain":["OA","PsA"],"range":["#000000","#ff2b06"]},"legend":null}}},
{"transform":[{"filter":"isValid(datum.s)"}],"mark":{"type":"rule","color":"#333","strokeWidth":1.5},"encoding":{"x":{"datum":"OA"},"x2":{"datum":"PsA"},"y":{"field":"y","type":"quantitative"}}},
{"transform":[{"filter":"isValid(datum.s)"}],"mark":{"type":"text","baseline":"bottom","dy":-7,"fontSize":9,"color":"#333"},"encoding":{"x":{"datum":"PsA","bandPosition":0},"y":{"field":"y","type":"quantitative"},"text":{"field":"s"}}}
]},
{"title":"MPO","width":152,"height":100,"transform":[{"filter":"datum.p==='MPO'"}],"layer":[
{"transform":[{"filter":"isValid(datum.m)"}],"mark":{"type":"rule","color":"#8c8c8c","strokeWidth":1.3},"encoding":{"x":{"field":"g","type":"nominal","axis":{"title":null}},"y":{"field":"lo","type":"quantitative","scale":{"domain":[0,15]},"axis":{"values":[0,5,10,15],"tickCount":10,"format":"d","title":"fmol/ul"}},"y2":{"field":"hi"}}},
{"transform":[{"filter":"isValid(datum.m)"}],"mark":{"type":"tick","size":27,"thickness":1.3,"color":"#8c8c8c","opacity":1},"encoding":{"x":{"field":"g","type":"nominal","axis":{"title":null}},"y":{"field":"lo","type":"quantitative"}}},
{"transform":[{"filter":"isValid(datum.m)"}],"mark":{"type":"tick","size":27,"thickness":1.3,"color":"#8c8c8c","opacity":1},"encoding":{"x":{"field":"g","type":"nominal","axis":{"title":null}},"y":{"field":"hi","type":"quantitative"}}},
{"transform":[{"filter":"isValid(datum.m)"}],"mark":{"type":"tick","size":45,"thickness":1.5,"color":"#222","opacity":1},"encoding":{"x":{"field":"g","type":"nominal","axis":{"title":null}},"y":{"field":"m","type":"quantitative"}}},
{"transform":[{"filter":"isValid(datum.v)"}],"mark":{"type":"circle","size":20,"opacity":1},"encoding":{"x":{"field":"g","type":"nominal","axis":{"title":null}},"xOffset":{"field":"j","type":"quantitative","scale":{"domain":[-8,8],"range":[14,62]}},"y":{"field":"v","type":"quantitative"},"color":{"field":"g","type":"nominal","scale":{"domain":["OA","PsA"],"range":["#000000","#ff2b06"]},"legend":null}}},
{"transform":[{"filter":"isValid(datum.s)"}],"mark":{"type":"rule","color":"#333","strokeWidth":1.5},"encoding":{"x":{"datum":"OA"},"x2":{"datum":"PsA"},"y":{"field":"y","type":"quantitative"}}},
{"transform":[{"filter":"isValid(datum.s)"}],"mark":{"type":"text","baseline":"bottom","dy":-7,"fontSize":9,"color":"#333"},"encoding":{"x":{"datum":"PsA","bandPosition":0},"y":{"field":"y","type":"quantitative"},"text":{"field":"s"}}}
]},
{"title":"PLS2","width":152,"height":100,"transform":[{"filter":"datum.p==='PLS2'"}],"layer":[
{"transform":[{"filter":"isValid(datum.m)"}],"mark":{"type":"rule","color":"#8c8c8c","strokeWidth":1.3},"encoding":{"x":{"field":"g","type":"nominal","axis":{"title":null}},"y":{"field":"lo","type":"quantitative","scale":{"domain":[0,1500]},"axis":{"values":[0,500,1000,1500],"tickCount":10,"format":"d","title":"fmol/ul"}},"y2":{"field":"hi"}}},
{"transform":[{"filter":"isValid(datum.m)"}],"mark":{"type":"tick","size":27,"thickness":1.3,"color":"#8c8c8c","opacity":1},"encoding":{"x":{"field":"g","type":"nominal","axis":{"title":null}},"y":{"field":"lo","type":"quantitative"}}},
{"transform":[{"filter":"isValid(datum.m)"}],"mark":{"type":"tick","size":27,"thickness":1.3,"color":"#8c8c8c","opacity":1},"encoding":{"x":{"field":"g","type":"nominal","axis":{"title":null}},"y":{"field":"hi","type":"quantitative"}}},
{"transform":[{"filter":"isValid(datum.m)"}],"mark":{"type":"tick","size":45,"thickness":1.5,"color":"#222","opacity":1},"encoding":{"x":{"field":"g","type":"nominal","axis":{"title":null}},"y":{"field":"m","type":"quantitative"}}},
{"transform":[{"filter":"isValid(datum.v)"}],"mark":{"type":"circle","size":20,"opacity":1},"encoding":{"x":{"field":"g","type":"nominal","axis":{"title":null}},"xOffset":{"field":"j","type":"quantitative","scale":{"domain":[-8,8],"range":[14,62]}},"y":{"field":"v","type":"quantitative"},"color":{"field":"g","type":"nominal","scale":{"domain":["OA","PsA"],"range":["#000000","#ff2b06"]},"legend":null}}},
{"transform":[{"filter":"isValid(datum.s)"}],"mark":{"type":"rule","color":"#333","strokeWidth":1.5},"encoding":{"x":{"datum":"OA"},"x2":{"datum":"PsA"},"y":{"field":"y","type":"quantitative"}}},
{"transform":[{"filter":"isValid(datum.s)"}],"mark":{"type":"text","baseline":"bottom","dy":-7,"fontSize":9,"color":"#333"},"encoding":{"x":{"datum":"PsA","bandPosition":0},"y":{"field":"y","type":"quantitative"},"text":{"field":"s"}}}
]},
{"title":"M2BP","width":152,"height":100,"transform":[{"filter":"datum.p==='M2BP'"}],"layer":[
{"transform":[{"filter":"isValid(datum.m)"}],"mark":{"type":"rule","color":"#8c8c8c","strokeWidth":1.3},"encoding":{"x":{"field":"g","type":"nominal","axis":{"title":null}},"y":{"field":"lo","type":"quantitative","scale":{"domain":[0,15]},"axis":{"values":[0,5,10,15],"tickCount":10,"format":"d","title":"fmol/ul"}},"y2":{"field":"hi"}}},
{"transform":[{"filter":"isValid(datum.m)"}],"mark":{"type":"tick","size":27,"thickness":1.3,"color":"#8c8c8c","opacity":1},"encoding":{"x":{"field":"g","type":"nominal","axis":{"title":null}},"y":{"field":"lo","type":"quantitative"}}},
{"transform":[{"filter":"isValid(datum.m)"}],"mark":{"type":"tick","size":27,"thickness":1.3,"color":"#8c8c8c","opacity":1},"encoding":{"x":{"field":"g","type":"nominal","axis":{"title":null}},"y":{"field":"hi","type":"quantitative"}}},
{"transform":[{"filter":"isValid(datum.m)"}],"mark":{"type":"tick","size":45,"thickness":1.5,"color":"#222","opacity":1},"encoding":{"x":{"field":"g","type":"nominal","axis":{"title":null}},"y":{"field":"m","type":"quantitative"}}},
{"transform":[{"filter":"isValid(datum.v)"}],"mark":{"type":"circle","size":20,"opacity":1},"encoding":{"x":{"field":"g","type":"nominal","axis":{"title":null}},"xOffset":{"field":"j","type":"quantitative","scale":{"domain":[-8,8],"range":[14,62]}},"y":{"field":"v","type":"quantitative"},"color":{"field":"g","type":"nominal","scale":{"domain":["OA","PsA"],"range":["#000000","#ff2b06"]},"legend":null}}},
{"transform":[{"filter":"isValid(datum.s)"}],"mark":{"type":"rule","color":"#333","strokeWidth":1.5},"encoding":{"x":{"datum":"OA"},"x2":{"datum":"PsA"},"y":{"field":"y","type":"quantitative"}}},
{"transform":[{"filter":"isValid(datum.s)"}],"mark":{"type":"text","baseline":"bottom","dy":-7,"fontSize":9,"color":"#333"},"encoding":{"x":{"datum":"PsA","bandPosition":0},"y":{"field":"y","type":"quantitative"},"text":{"field":"s"}}}
]},
{"title":"C4BP","width":152,"height":100,"transform":[{"filter":"datum.p==='C4BP'"}],"layer":[
{"transform":[{"filter":"isValid(datum.m)"}],"mark":{"type":"rule","color":"#8c8c8c","strokeWidth":1.3},"encoding":{"x":{"field":"g","type":"nominal","axis":{"title":null}},"y":{"field":"lo","type":"quantitative","scale":{"domain":[0,15]},"axis":{"values":[0,5,10,15],"tickCount":10,"format":"d","title":"pmol/ul"}},"y2":{"field":"hi"}}},
{"transform":[{"filter":"isValid(datum.m)"}],"mark":{"type":"tick","size":27,"thickness":1.3,"color":"#8c8c8c","opacity":1},"encoding":{"x":{"field":"g","type":"nominal","axis":{"title":null}},"y":{"field":"lo","type":"quantitative"}}},
{"transform":[{"filter":"isValid(datum.m)"}],"mark":{"type":"tick","size":27,"thickness":1.3,"color":"#8c8c8c","opacity":1},"encoding":{"x":{"field":"g","type":"nominal","axis":{"title":null}},"y":{"field":"hi","type":"quantitative"}}},
{"transform":[{"filter":"isValid(datum.m)"}],"mark":{"type":"tick","size":45,"thickness":1.5,"color":"#222","opacity":1},"encoding":{"x":{"field":"g","type":"nominal","axis":{"title":null}},"y":{"field":"m","type":"quantitative"}}},
{"transform":[{"filter":"isValid(datum.v)"}],"mark":{"type":"circle","size":20,"opacity":1},"encoding":{"x":{"field":"g","type":"nominal","axis":{"title":null}},"xOffset":{"field":"j","type":"quantitative","scale":{"domain":[-8,8],"range":[14,62]}},"y":{"field":"v","type":"quantitative"},"color":{"field":"g","type":"nominal","scale":{"domain":["OA","PsA"],"range":["#000000","#ff2b06"]},"legend":null}}},
{"transform":[{"filter":"isValid(datum.s)"}],"mark":{"type":"rule","color":"#333","strokeWidth":1.5},"encoding":{"x":{"datum":"OA"},"x2":{"datum":"PsA"},"y":{"field":"y","type":"quantitative"}}},
{"transform":[{"filter":"isValid(datum.s)"}],"mark":{"type":"text","baseline":"bottom","dy":-7,"fontSize":9,"color":"#333"},"encoding":{"x":{"datum":"PsA","bandPosition":0},"y":{"field":"y","type":"quantitative"},"text":{"field":"s"}}}
]},
{"title":"CRP","width":152,"height":100,"transform":[{"filter":"datum.p==='CRP'"}],"layer":[
{"transform":[{"filter":"isValid(datum.m)"}],"mark":{"type":"rule","color":"#8c8c8c","strokeWidth":1.3},"encoding":{"x":{"field":"g","type":"nominal","axis":{"title":null}},"y":{"field":"lo","type":"quantitative","scale":{"domain":[0,20]},"axis":{"values":[0,5,10,15,20],"tickCount":10,"format":"d","title":"pmol/ul"}},"y2":{"field":"hi"}}},
{"transform":[{"filter":"isValid(datum.m)"}],"mark":{"type":"tick","size":27,"thickness":1.3,"color":"#8c8c8c","opacity":1},"encoding":{"x":{"field":"g","type":"nominal","axis":{"title":null}},"y":{"field":"lo","type":"quantitative"}}},
{"transform":[{"filter":"isValid(datum.m)"}],"mark":{"type":"tick","size":27,"thickness":1.3,"color":"#8c8c8c","opacity":1},"encoding":{"x":{"field":"g","type":"nominal","axis":{"title":null}},"y":{"field":"hi","type":"quantitative"}}},
{"transform":[{"filter":"isValid(datum.m)"}],"mark":{"type":"tick","size":45,"thickness":1.5,"color":"#222","opacity":1},"encoding":{"x":{"field":"g","type":"nominal","axis":{"title":null}},"y":{"field":"m","type":"quantitative"}}},
{"transform":[{"filter":"isValid(datum.v)"}],"mark":{"type":"circle","size":20,"opacity":1},"encoding":{"x":{"field":"g","type":"nominal","axis":{"title":null}},"xOffset":{"field":"j","type":"quantitative","scale":{"domain":[-8,8],"range":[14,62]}},"y":{"field":"v","type":"quantitative"},"color":{"field":"g","type":"nominal","scale":{"domain":["OA","PsA"],"range":["#000000","#ff2b06"]},"legend":null}}},
{"transform":[{"filter":"isValid(datum.s)"}],"mark":{"type":"rule","color":"#333","strokeWidth":1.5},"encoding":{"x":{"datum":"OA"},"x2":{"datum":"PsA"},"y":{"field":"y","type":"quantitative"}}},
{"transform":[{"filter":"isValid(datum.s)"}],"mark":{"type":"text","baseline":"bottom","dy":-7,"fontSize":9,"color":"#333"},"encoding":{"x":{"datum":"PsA","bandPosition":0},"y":{"field":"y","type":"quantitative"},"text":{"field":"s"}}}
]},
{"title":"S100A9","width":152,"height":100,"transform":[{"filter":"datum.p==='S100A9'"}],"layer":[
{"transform":[{"filter":"isValid(datum.m)"}],"mark":{"type":"rule","color":"#8c8c8c","strokeWidth":1.3},"encoding":{"x":{"field":"g","type":"nominal","axis":{"title":null}},"y":{"field":"lo","type":"quantitative","scale":{"domain":[0,1500]},"axis":{"values":[0,500,1000,1500],"tickCount":10,"format":"d","title":"fmol/ul"}},"y2":{"field":"hi"}}},
{"transform":[{"filter":"isValid(datum.m)"}],"mark":{"type":"tick","size":27,"thickness":1.3,"color":"#8c8c8c","opacity":1},"encoding":{"x":{"field":"g","type":"nominal","axis":{"title":null}},"y":{"field":"lo","type":"quantitative"}}},
{"transform":[{"filter":"isValid(datum.m)"}],"mark":{"type":"tick","size":27,"thickness":1.3,"color":"#8c8c8c","opacity":1},"encoding":{"x":{"field":"g","type":"nominal","axis":{"title":null}},"y":{"field":"hi","type":"quantitative"}}},
{"transform":[{"filter":"isValid(datum.m)"}],"mark":{"type":"tick","size":45,"thickness":1.5,"color":"#222","opacity":1},"encoding":{"x":{"field":"g","type":"nominal","axis":{"title":null}},"y":{"field":"m","type":"quantitative"}}},
{"transform":[{"filter":"isValid(datum.v)"}],"mark":{"type":"circle","size":20,"opacity":1},"encoding":{"x":{"field":"g","type":"nominal","axis":{"title":null}},"xOffset":{"field":"j","type":"quantitative","scale":{"domain":[-8,8],"range":[14,62]}},"y":{"field":"v","type":"quantitative"},"color":{"field":"g","type":"nominal","scale":{"domain":["OA","PsA"],"range":["#000000","#ff2b06"]},"legend":null}}},
{"transform":[{"filter":"isValid(datum.s)"}],"mark":{"type":"rule","color":"#333","strokeWidth":1.5},"encoding":{"x":{"datum":"OA"},"x2":{"datum":"PsA"},"y":{"field":"y","type":"quantitative"}}},
{"transform":[{"filter":"isValid(datum.s)"}],"mark":{"type":"text","baseline":"bottom","dy":-7,"fontSize":9,"color":"#333"},"encoding":{"x":{"datum":"PsA","bandPosition":0},"y":{"field":"y","type":"quantitative"},"text":{"field":"s"}}}
]},
{"title":"MMP3","width":152,"height":100,"transform":[{"filter":"datum.p==='MMP3'"}],"layer":[
{"transform":[{"filter":"isValid(datum.m)"}],"mark":{"type":"rule","color":"#8c8c8c","strokeWidth":1.3},"encoding":{"x":{"field":"g","type":"nominal","axis":{"title":null}},"y":{"field":"lo","type":"quantitative","scale":{"domain":[0,150]},"axis":{"values":[0,50,100,150],"tickCount":10,"format":"d","title":"fmol/ul"}},"y2":{"field":"hi"}}},
{"transform":[{"filter":"isValid(datum.m)"}],"mark":{"type":"tick","size":27,"thickness":1.3,"color":"#8c8c8c","opacity":1},"encoding":{"x":{"field":"g","type":"nominal","axis":{"title":null}},"y":{"field":"lo","type":"quantitative"}}},
{"transform":[{"filter":"isValid(datum.m)"}],"mark":{"type":"tick","size":27,"thickness":1.3,"color":"#8c8c8c","opacity":1},"encoding":{"x":{"field":"g","type":"nominal","axis":{"title":null}},"y":{"field":"hi","type":"quantitative"}}},
{"transform":[{"filter":"isValid(datum.m)"}],"mark":{"type":"tick","size":45,"thickness":1.5,"color":"#222","opacity":1},"encoding":{"x":{"field":"g","type":"nominal","axis":{"title":null}},"y":{"field":"m","type":"quantitative"}}},
{"transform":[{"filter":"isValid(datum.v)"}],"mark":{"type":"circle","size":20,"opacity":1},"encoding":{"x":{"field":"g","type":"nominal","axis":{"title":null}},"xOffset":{"field":"j","type":"quantitative","scale":{"domain":[-8,8],"range":[14,62]}},"y":{"field":"v","type":"quantitative"},"color":{"field":"g","type":"nominal","scale":{"domain":["OA","PsA"],"range":["#000000","#ff2b06"]},"legend":null}}},
{"transform":[{"filter":"isValid(datum.s)"}],"mark":{"type":"rule","color":"#333","strokeWidth":1.5},"encoding":{"x":{"datum":"OA"},"x2":{"datum":"PsA"},"y":{"field":"y","type":"quantitative"}}},
{"transform":[{"filter":"isValid(datum.s)"}],"mark":{"type":"text","baseline":"bottom","dy":-7,"fontSize":9,"color":"#333"},"encoding":{"x":{"datum":"PsA","bandPosition":0},"y":{"field":"y","type":"quantitative"},"text":{"field":"s"}}}
]},
{"title":"DEFA1","width":152,"height":100,"transform":[{"filter":"datum.p==='DEFA1'"}],"layer":[
{"transform":[{"filter":"isValid(datum.m)"}],"mark":{"type":"rule","color":"#8c8c8c","strokeWidth":1.3},"encoding":{"x":{"field":"g","type":"nominal","axis":{"title":null}},"y":{"field":"lo","type":"quantitative","scale":{"domain":[0,1500]},"axis":{"values":[0,500,1000,1500],"tickCount":10,"format":"d","title":"fmol/ul"}},"y2":{"field":"hi"}}},
{"transform":[{"filter":"isValid(datum.m)"}],"mark":{"type":"tick","size":27,"thickness":1.3,"color":"#8c8c8c","opacity":1},"encoding":{"x":{"field":"g","type":"nominal","axis":{"title":null}},"y":{"field":"lo","type":"quantitative"}}},
{"transform":[{"filter":"isValid(datum.m)"}],"mark":{"type":"tick","size":27,"thickness":1.3,"color":"#8c8c8c","opacity":1},"encoding":{"x":{"field":"g","type":"nominal","axis":{"title":null}},"y":{"field":"hi","type":"quantitative"}}},
{"transform":[{"filter":"isValid(datum.m)"}],"mark":{"type":"tick","size":45,"thickness":1.5,"color":"#222","opacity":1},"encoding":{"x":{"field":"g","type":"nominal","axis":{"title":null}},"y":{"field":"m","type":"quantitative"}}},
{"transform":[{"filter":"isValid(datum.v)"}],"mark":{"type":"circle","size":20,"opacity":1},"encoding":{"x":{"field":"g","type":"nominal","axis":{"title":null}},"xOffset":{"field":"j","type":"quantitative","scale":{"domain":[-8,8],"range":[14,62]}},"y":{"field":"v","type":"quantitative"},"color":{"field":"g","type":"nominal","scale":{"domain":["OA","PsA"],"range":["#000000","#ff2b06"]},"legend":null}}},
{"transform":[{"filter":"isValid(datum.s)"}],"mark":{"type":"rule","color":"#333","strokeWidth":1.5},"encoding":{"x":{"datum":"OA"},"x2":{"datum":"PsA"},"y":{"field":"y","type":"quantitative"}}},
{"transform":[{"filter":"isValid(datum.s)"}],"mark":{"type":"text","baseline":"bottom","dy":-7,"fontSize":9,"color":"#333"},"encoding":{"x":{"datum":"PsA","bandPosition":0},"y":{"field":"y","type":"quantitative"},"text":{"field":"s"}}}
]},
{"title":"CD5L","width":152,"height":100,"transform":[{"filter":"datum.p==='CD5L'"}],"layer":[
{"transform":[{"filter":"isValid(datum.m)"}],"mark":{"type":"rule","color":"#8c8c8c","strokeWidth":1.3},"encoding":{"x":{"field":"g","type":"nominal","axis":{"title":null}},"y":{"field":"lo","type":"quantitative","scale":{"domain":[0,150]},"axis":{"values":[0,50,100,150],"tickCount":10,"format":"d","title":"fmol/ul"}},"y2":{"field":"hi"}}},
{"transform":[{"filter":"isValid(datum.m)"}],"mark":{"type":"tick","size":27,"thickness":1.3,"color":"#8c8c8c","opacity":1},"encoding":{"x":{"field":"g","type":"nominal","axis":{"title":null}},"y":{"field":"lo","type":"quantitative"}}},
{"transform":[{"filter":"isValid(datum.m)"}],"mark":{"type":"tick","size":27,"thickness":1.3,"color":"#8c8c8c","opacity":1},"encoding":{"x":{"field":"g","type":"nominal","axis":{"title":null}},"y":{"field":"hi","type":"quantitative"}}},
{"transform":[{"filter":"isValid(datum.m)"}],"mark":{"type":"tick","size":45,"thickness":1.5,"color":"#222","opacity":1},"encoding":{"x":{"field":"g","type":"nominal","axis":{"title":null}},"y":{"field":"m","type":"quantitative"}}},
{"transform":[{"filter":"isValid(datum.v)"}],"mark":{"type":"circle","size":20,"opacity":1},"encoding":{"x":{"field":"g","type":"nominal","axis":{"title":null}},"xOffset":{"field":"j","type":"quantitative","scale":{"domain":[-8,8],"range":[14,62]}},"y":{"field":"v","type":"quantitative"},"color":{"field":"g","type":"nominal","scale":{"domain":["OA","PsA"],"range":["#000000","#ff2b06"]},"legend":null}}},
{"transform":[{"filter":"isValid(datum.s)"}],"mark":{"type":"rule","color":"#333","strokeWidth":1.5},"encoding":{"x":{"datum":"OA"},"x2":{"datum":"PsA"},"y":{"field":"y","type":"quantitative"}}},
{"transform":[{"filter":"isValid(datum.s)"}],"mark":{"type":"text","baseline":"bottom","dy":-7,"fontSize":9,"color":"#333"},"encoding":{"x":{"datum":"PsA","bandPosition":0},"y":{"field":"y","type":"quantitative"},"text":{"field":"s"}}}
]}
],
"config":{
"view":{"stroke":null},
"font":"Liberation Sans",
"title":{"fontSize":10,"fontWeight":"bold","color":"#000","offset":10},
"axis":{"grid":false,"labelOverlap":false,"domainColor":"#000","domainWidth":1.5,"tickColor":"#000","tickWidth":1.2,"tickSize":3,"labelFontSize":8,"labelFontWeight":"bold","labelColor":"#000","titleFontSize":9,"titleFontWeight":"bold","titleColor":"#000","labelPadding":1,"titlePadding":3},
"axisX":{"labelAngle":-45},
"scale":{"bandPaddingInner":0,"bandPaddingOuter":0}
}
}
